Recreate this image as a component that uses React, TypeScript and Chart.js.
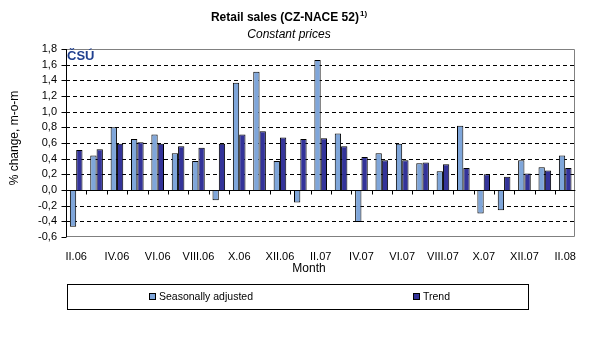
import React, { useEffect, useRef } from "react";
import { Chart, registerables } from "chart.js";

Chart.register(...registerables);

const months = [
  "II.06", "III.06", "IV.06", "V.06", "VI.06", "VII.06", "VIII.06", "IX.06", "X.06", "XI.06", "XII.06",
  "I.07", "II.07", "III.07", "IV.07", "V.07", "VI.07", "VII.07", "VIII.07", "IX.07", "X.07", "XI.07", "XII.07",
  "I.08", "II.08",
];

const seasonallyAdjusted = [
  -0.47, 0.44, 0.8, 0.65, 0.71, 0.47, 0.37, -0.13, 1.37, 1.51, 0.37, -0.16, 1.66, 0.72, -0.41, 0.47, 0.59, 0.34,
  0.24, 0.82, -0.3, -0.26, 0.38, 0.29, 0.44,
];

const trend = [
  0.51, 0.52, 0.59, 0.61, 0.59, 0.56, 0.54, 0.59, 0.71, 0.75, 0.67, 0.65, 0.66, 0.56, 0.42, 0.38, 0.38, 0.35, 0.33,
  0.28, 0.2, 0.17, 0.21, 0.25, 0.28,
];

const seriesNames = ["Seasonally adjusted", "Trend"];
const seriesColors = ["#7FA6DA", "#333399"];

const titleText = "Retail sales (CZ-NACE 52)";
const titleSup = "1)";
const subtitleText = "Constant prices";
const yTitle = "% change, m-o-m";
const xTitle = "Month";
const logoText = "ČSÚ";

const FONT = "'Liberation Sans', Arial, sans-serif";

const decorPlugin = {
  id: "decor",
  beforeDatasetsDraw(chart: any) {
    const { ctx, chartArea, scales } = chart;
    const { left, right } = chartArea;
    const y = scales.y;
    ctx.save();
    ctx.strokeStyle = "#000";
    ctx.lineWidth = 1;
    ctx.setLineDash([4, 3]);
    y.ticks.forEach((t: any) => {
      if (Math.abs(t.value) < 1e-9 || t.value > 1.79 || t.value < -0.59) return;
      const py = Math.round(y.getPixelForValue(t.value)) + 0.5;
      ctx.beginPath();
      ctx.moveTo(left, py);
      ctx.lineTo(right, py);
      ctx.stroke();
    });
    ctx.restore();
  },
  afterDatasetsDraw(chart: any) {
    const { ctx, chartArea, scales } = chart;
    const { left, right, top, bottom } = chartArea;
    const x = scales.x;
    const y = scales.y;
    ctx.save();
    ctx.setLineDash([]);
    ctx.lineWidth = 1;
    // plot border
    ctx.strokeStyle = "#808080";
    ctx.beginPath();
    ctx.moveTo(Math.round(left), Math.round(top) + 0.5);
    ctx.lineTo(Math.round(right) - 0.5, Math.round(top) + 0.5);
    ctx.lineTo(Math.round(right) - 0.5, Math.round(bottom) - 0.5);
    ctx.lineTo(Math.round(left), Math.round(bottom) - 0.5);
    ctx.stroke();
    // y axis line
    ctx.strokeStyle = "#000";
    const lx = Math.round(left) + 0.5;
    ctx.beginPath();
    ctx.moveTo(lx, Math.round(top));
    ctx.lineTo(lx, Math.round(bottom));
    ctx.stroke();
    // y tick marks
    y.ticks.forEach((t: any) => {
      const py = Math.round(y.getPixelForValue(t.value)) + 0.5;
      ctx.beginPath();
      ctx.moveTo(lx - 5, py);
      ctx.lineTo(lx, py);
      ctx.stroke();
    });
    // zero line with category ticks
    const zy = Math.round(y.getPixelForValue(0)) + 0.5;
    ctx.beginPath();
    ctx.moveTo(left, zy);
    ctx.lineTo(right, zy);
    ctx.stroke();
    const catW = x.getPixelForValue(1) - x.getPixelForValue(0);
    for (let i = 1; i < months.length; i++) {
      const px = Math.round(x.getPixelForValue(i) - catW / 2) + 0.5;
      ctx.beginPath();
      ctx.moveTo(px, zy);
      ctx.lineTo(px, zy + 4);
      ctx.stroke();
    }
    // logo
    ctx.fillStyle = "#1F3F8F";
    ctx.font = `bold 13px ${FONT}`;
    ctx.textAlign = "left";
    ctx.textBaseline = "top";
    ctx.fillText(logoText, left + 1, top + 1);
    ctx.restore();
  },
  afterDraw(chart: any) {
    const { ctx } = chart;
    ctx.save();
    ctx.fillStyle = "#000";
    // title
    ctx.font = `bold 12px ${FONT}`;
    const tw = ctx.measureText(titleText).width;
    ctx.font = `bold 8px ${FONT}`;
    const sw = ctx.measureText(titleSup).width;
    const cx = 289;
    const tx = cx - (tw + sw + 1) / 2;
    ctx.textAlign = "left";
    ctx.textBaseline = "middle";
    ctx.font = `bold 12px ${FONT}`;
    ctx.fillText(titleText, tx, 18);
    ctx.font = `bold 8px ${FONT}`;
    ctx.fillText(titleSup, tx + tw + 1, 14);
    // subtitle
    ctx.font = `italic 12px ${FONT}`;
    ctx.textAlign = "center";
    ctx.fillText(subtitleText, cx, 35);
    // x title
    ctx.font = `12px ${FONT}`;
    ctx.fillText(xTitle, 309, 269);
    // y title
    ctx.save();
    ctx.translate(15, 138);
    ctx.rotate(-Math.PI / 2);
    ctx.font = `12px ${FONT}`;
    ctx.fillText(yTitle, 0, 0);
    ctx.restore();
    // legend
    ctx.strokeStyle = "#000";
    ctx.lineWidth = 1;
    ctx.strokeRect(67.5, 284.5, 461, 25);
    const items = [
      { x: 149, label: seriesNames[0], color: seriesColors[0] },
      { x: 413, label: seriesNames[1], color: seriesColors[1] },
    ];
    ctx.font = `10.5px ${FONT}`;
    ctx.textAlign = "left";
    ctx.textBaseline = "middle";
    items.forEach((it) => {
      ctx.fillStyle = it.color;
      ctx.fillRect(it.x + 0.5, 293.5, 6, 6);
      ctx.strokeRect(it.x + 0.5, 293.5, 6, 6);
      ctx.fillStyle = "#000";
      ctx.fillText(it.label, it.x + 10, 297);
    });
    ctx.restore();
  },
};

export default function App() {
  const ref = useRef<HTMLCanvasElement>(null);
  useEffect(() => {
    if (!ref.current) return;
    const chart = new Chart(ref.current, {
      type: "bar",
      data: {
        labels: months,
        datasets: [
          {
            label: seriesNames[0],
            data: seasonallyAdjusted,
            backgroundColor: seriesColors[0],
            borderColor: "#000",
            borderWidth: 1,
          },
          {
            label: seriesNames[1],
            data: trend,
            backgroundColor: seriesColors[1],
            borderColor: "#000",
            borderWidth: 1,
          },
        ],
      },
      options: {
        responsive: false,
        animation: false,
        devicePixelRatio: 1,
        layout: { padding: { top: 49, right: 5, left: 0, bottom: 0 } },
        datasets: { bar: { categoryPercentage: 0.62, barPercentage: 1 } },
        plugins: { legend: { display: false }, title: { display: false }, tooltip: { enabled: false } },
        scales: {
          x: {
            grid: { display: false, drawTicks: false },
            border: { display: false },
            afterFit: (s: any) => {
              s.height = 123;
            },
            ticks: {
              autoSkip: false,
              maxRotation: 0,
              minRotation: 0,
              padding: 13,
              color: "#000",
              font: { family: FONT, size: 11 },
              callback: (_v: any, i: number) => (i % 2 === 0 ? months[i] : ""),
            },
          },
          y: {
            min: -0.6,
            max: 1.8,
            grid: { display: false, drawTicks: false },
            border: { display: false },
            afterFit: (s: any) => {
              s.width = 66;
            },
            ticks: {
              stepSize: 0.2,
              autoSkip: false,
              padding: 9,
              color: "#000",
              font: { family: FONT, size: 11 },
              callback: (v: any) => Number(v).toFixed(1).replace(".", ","),
            },
          },
        },
      },
      plugins: [decorPlugin],
    });
    return () => chart.destroy();
  }, []);
  return (
    <div style={{ position: "absolute", left: 0, top: 0, width: 589, height: 360, background: "#fff" }}>
      <canvas ref={ref} width={589} height={360} />
    </div>
  );
}
